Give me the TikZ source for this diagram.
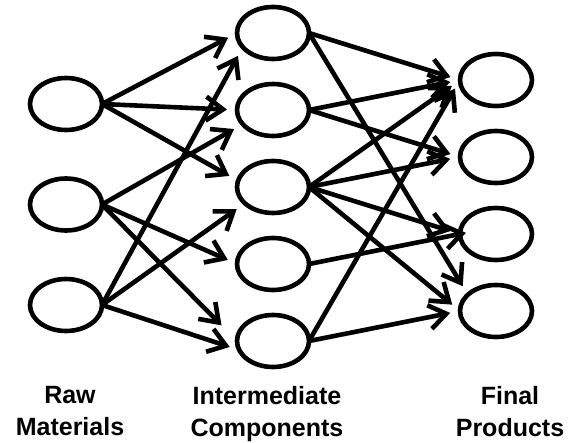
\documentclass[tikz,border=0pt]{standalone}
\usepackage{fontspec}
\setmainfont{Liberation Sans}
\usetikzlibrary{
    positioning,
    arrows.meta,
    shapes.geometric
}

\begin{document}
\begin{tikzpicture}
[
    font=\fontsize{12.5}{16}\selectfont\bfseries,
    unit/.style={
        ellipse,
        draw=black,
        line width=2.3pt,
        minimum width=36pt,
        minimum height=26pt,
        inner sep=0pt,
        outer sep=0pt
    },
    flow/.style={
        -{Straight Barb[length=8.5pt,width=12pt]},
        line width=2.3pt,
        shorten >=5pt
    },
    caption/.style={
        align=center,
        anchor=north,
        inner sep=0pt
    }
]

\useasboundingbox (0,0) rectangle (291.5pt,-221.5pt);


% =====================
% RAW MATERIALS
% =====================

\node[unit] (r1) at (33pt,-52pt) {};
\node[unit, below=24.25pt of r1] (r2) {};
\node[unit, below=24.25pt of r2] (r3) {};


% =====================
% INTERMEDIATE COMPONENTS
% =====================

\node[unit] (i1) at (136.5pt,-16.5pt) {};
\node[unit, below=12.5pt of i1] (i2) {};
\node[unit, below=12.5pt of i2] (i3) {};
\node[unit, below=12.5pt of i3] (i4) {};
\node[unit, below=12.5pt of i4] (i5) {};


% =====================
% FINAL PRODUCTS
% =====================

\node[unit] (f1) at (248pt,-40pt) {};
\node[unit, below=12.5pt of f1] (f2) {};
\node[unit, below=12.5pt of f2] (f3) {};
\node[unit, below=12.5pt of f3] (f4) {};


% =====================
% CAPTIONS
% =====================

\node[caption] (rawlabel) at (35pt,-193pt) {Raw\\Materials};
\node[caption] (midlabel) at (133.5pt,-193pt) {Intermediate\\Components};
\node[caption] (finlabel) at (255pt,-193pt) {Final\\Products};


% =====================
% RAW -> INTERMEDIATE
% =====================

\draw[flow] (r1.east) -- (i1.west);
\draw[flow] (r1.east) -- (i2.west);
\draw[flow] (r1.east) -- (i3.170);

\draw[flow] (r2.east) -- (i2.205);
\draw[flow] (r2.east) -- (i4.west);
\draw[flow, shorten >=11pt] (r2.east) -- (i5.west);

\draw[flow] (r3.east) -- (i1.205);
\draw[flow] (r3.east) -- (i3.210);
\draw[flow] (r3.east) -- (i5.195);


% =====================
% INTERMEDIATE -> FINAL
% =====================

\draw[flow] (i1.east) -- (f1.west);
\draw[flow] (i1.east) -- (f4.150);

\draw[flow] (i2.east) -- (f1.west);
\draw[flow] (i2.east) -- (f2.west);

\draw[flow] (i3.east) -- (f1.west);
\draw[flow] (i3.east) -- (f2.west);
\draw[flow] (i3.east) -- (f3.west);
\draw[flow] (i3.east) -- (f4.west);

\draw[flow, shorten >=-3pt] (i4.east) -- (f3.west);

\draw[flow] (i5.east) -- (f1.west);
\draw[flow] (i5.east) -- (f4.west);

\end{tikzpicture}
\end{document}
